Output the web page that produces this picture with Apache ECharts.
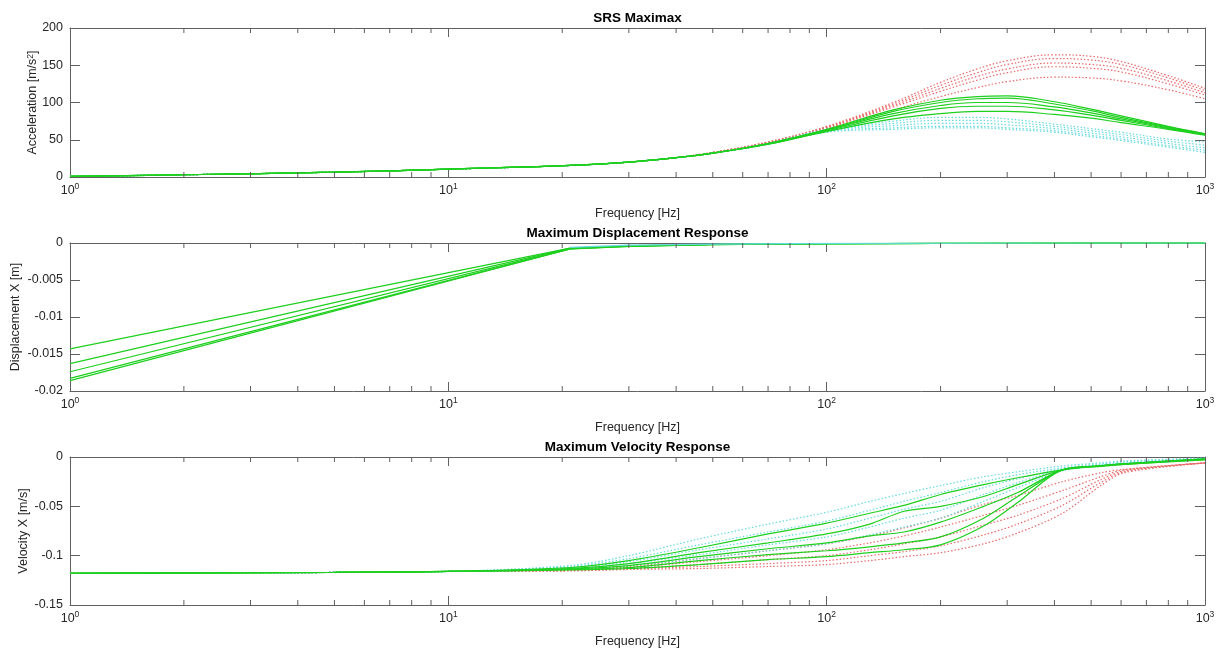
<!DOCTYPE html>
<html>
<head>
<meta charset="utf-8">
<script src="https://cdn.jsdelivr.net/npm/echarts@6/dist/echarts.min.js"></script>
<style>html,body{margin:0;padding:0;background:#fff;}#c{width:1223px;height:657px;}</style>
</head>
<body>
<div id="c"></div>
<script>
// ---------- DATA ----------
const titles = ['SRS Maximax', 'Maximum Displacement Response', 'Maximum Velocity Response'];
const xLabel = 'Frequency [Hz]';
const minorFreqs = [2,3,4,5,6,7,8,9,20,30,40,50,60,70,80,90,200,300,400,500,600,700,800,900];

// Panel 1: SRS acceleration [m/s^2]
const accFreq = [1, 2, 5, 10, 21, 30, 40, 50, 70, 100, 150, 200, 250, 300, 400, 500, 600, 800, 1000];
const accGreen = [
  [0.8,3,6.5,10.5,15.5,20,26,32,45, 64,90,103,108,109,101,91,82,68,58],
  [0.8,3,6.5,10.5,15.5,20,26,32,45, 63,88,100,105,106,98,89,80,67,58],
  [0.8,3,6.5,10.5,15.5,20,26,32,45, 63,85,96,100,100,94,86,78,66,57],
  [0.8,3,6.5,10.5,15.5,20,26,32,44, 62,82,92,95,95,90,83,76,65,57],
  [0.8,3,6.5,10.5,15.5,20,26,32,44, 61,78,85,88,88,84,79,73,64,56]
];
const accRed = [
  [0.8,3,6.5,10.5,15.5,20,26,33,47, 68,100,127,145,156,164,162,155,136,119],
  [0.8,3,6.5,10.5,15.5,20,26,33,47, 67,98,123,140,151,159,157,151,133,116],
  [0.8,3,6.5,10.5,15.5,20,26,33,46, 67,96,119,135,145,153,151,146,129,113],
  [0.8,3,6.5,10.5,15.5,20,26,33,46, 66,94,115,130,140,148,146,141,125,110],
  [0.8,3,6.5,10.5,15.5,20,26,32,46, 65,90,108,120,128,134,133,129,117,105]
];
const accCyan = [
  [0.8,3,6.5,10.5,15.5,20,26,32,45, 64,75,80,80,78,71,65,60,51,47],
  [0.8,3,6.5,10.5,15.5,20,26,32,45, 63,72,76,76,74,68,62,57,48,43],
  [0.8,3,6.5,10.5,15.5,20,26,32,44, 62,69,72,72,70,65,59,54,45,39],
  [0.8,3,6.5,10.5,15.5,20,26,32,44, 61,66,68,68,66,62,56,51,42,36],
  [0.8,3,6.5,10.5,15.5,20,26,32,44, 60,64,66,66,64,60,54,49,40,33]
];

// Panel 2: displacement [m]
const dispFreq = [1, 21, 30, 50, 100, 200, 500, 1000];
const dispGreen = [
  [-0.0143, -0.0007, -0.0004, -0.0002, -0.0001, -0.00004, -0.00001, 0],
  [-0.0163, -0.0007, -0.0004, -0.0002, -0.0001, -0.00004, -0.00001, 0],
  [-0.0174, -0.00075, -0.00042, -0.0002, -0.0001, -0.00004, -0.00001, 0],
  [-0.0183, -0.0008, -0.00045, -0.00022, -0.0001, -0.00004, -0.00001, 0],
  [-0.0186, -0.0008, -0.00045, -0.00022, -0.0001, -0.00004, -0.00001, 0]
];
const dispCyanFreq = [21, 30, 50, 100, 200, 500, 1000];
const dispCyan = [-0.0006, -0.0003, -0.00015, -0.00006, -0.00002, 0, 0];

// Panel 3: velocity [m/s]
const velFreq = [1, 2, 5, 10, 21, 30, 46, 70, 100, 130, 160, 200, 260, 320, 420, 530, 610, 1000];
const velGreen = [
  [-0.118,-0.1175,-0.117,-0.116,-0.112,-0.105,-0.092,-0.078,-0.067,-0.057,-0.049,-0.038,-0.028,-0.021,-0.013,-0.009,-0.007,-0.002],
  [-0.118,-0.1175,-0.117,-0.116,-0.113,-0.108,-0.097,-0.087,-0.078,-0.068,-0.055,-0.050,-0.040,-0.028,-0.013,-0.009,-0.007,-0.002],
  [-0.118,-0.1175,-0.117,-0.116,-0.1135,-0.110,-0.101,-0.093,-0.087,-0.080,-0.076,-0.066,-0.050,-0.036,-0.013,-0.009,-0.007,-0.0025],
  [-0.118,-0.1175,-0.117,-0.116,-0.114,-0.112,-0.105,-0.099,-0.095,-0.091,-0.087,-0.081,-0.062,-0.040,-0.013,-0.009,-0.0075,-0.0025],
  [-0.118,-0.1175,-0.117,-0.116,-0.1145,-0.113,-0.109,-0.104,-0.101,-0.097,-0.094,-0.089,-0.070,-0.046,-0.013,-0.0095,-0.0075,-0.003]
];
const velRed = [
  [-0.118,-0.1175,-0.117,-0.116,-0.114,-0.111,-0.103,-0.095,-0.088,-0.080,-0.072,-0.062,-0.048,-0.039,-0.025,-0.016,-0.0125,-0.006],
  [-0.118,-0.1175,-0.117,-0.116,-0.1145,-0.112,-0.106,-0.100,-0.094,-0.087,-0.080,-0.071,-0.059,-0.049,-0.034,-0.020,-0.013,-0.006],
  [-0.118,-0.1175,-0.117,-0.116,-0.115,-0.113,-0.109,-0.104,-0.100,-0.094,-0.088,-0.081,-0.069,-0.059,-0.042,-0.023,-0.014,-0.006],
  [-0.118,-0.1175,-0.117,-0.116,-0.115,-0.1135,-0.111,-0.108,-0.105,-0.100,-0.096,-0.090,-0.079,-0.068,-0.049,-0.026,-0.015,-0.006],
  [-0.118,-0.1175,-0.117,-0.116,-0.1155,-0.114,-0.113,-0.111,-0.109,-0.105,-0.101,-0.097,-0.088,-0.077,-0.057,-0.029,-0.016,-0.006]
];
const velCyan = [
  [-0.118,-0.1175,-0.117,-0.116,-0.110,-0.100,-0.083,-0.068,-0.056,-0.045,-0.037,-0.029,-0.020,-0.015,-0.009,-0.006,-0.004,-0.001],
  [-0.118,-0.1175,-0.117,-0.116,-0.111,-0.103,-0.089,-0.076,-0.065,-0.054,-0.045,-0.036,-0.025,-0.018,-0.011,-0.007,-0.005,-0.0015],
  [-0.118,-0.1175,-0.117,-0.116,-0.112,-0.106,-0.094,-0.083,-0.073,-0.062,-0.053,-0.045,-0.031,-0.022,-0.012,-0.008,-0.006,-0.002],
  [-0.118,-0.1175,-0.117,-0.116,-0.113,-0.108,-0.099,-0.089,-0.081,-0.071,-0.062,-0.054,-0.038,-0.026,-0.013,-0.0085,-0.0065,-0.002],
  [-0.118,-0.1175,-0.117,-0.116,-0.1135,-0.110,-0.103,-0.095,-0.088,-0.079,-0.071,-0.062,-0.045,-0.031,-0.014,-0.009,-0.007,-0.002]
];

const yNames = ['Acceleration [m/s{s|2}]', 'Displacement X [m]', 'Velocity X [m/s]'];
const yRanges = [[0, 200, 50], [-0.02, 0, 0.005], [-0.15, 0, 0.05]];

// ---------- STYLE / LAYOUT ----------
const FONT = '"Liberation Sans", Arial, Helvetica, sans-serif';
const TXT = '#262626';
const AX = '#606060';
const GREEN = '#1fcf1f', RED = '#e86a6a', CYAN = '#66dae0';
const grids = [
  {left: 70, right: 18, top: 28, height: 149, outerBoundsMode: 'none', containLabel: false},
  {left: 70, right: 18, top: 243, height: 148, outerBoundsMode: 'none', containLabel: false},
  {left: 70, right: 18, top: 457, height: 148, outerBoundsMode: 'none', containLabel: false}
];
const yNameGaps = [31, 48, 40];

function pairs(f, v) { return f.map((x, i) => [x, v[i]]); }

const xAxes = [], yAxes = [], series = [];
grids.forEach((g, i) => {
  const base = {
    type: 'log', logBase: 10, min: 1, max: 1000, gridIndex: i,
    axisLine: {show: true, onZero: false, lineStyle: {color: AX, width: 1}},
    axisTick: {show: true, inside: true, length: 9, lineStyle: {color: AX}},
    splitLine: {show: false}, minorTick: {show: false}, minorSplitLine: {show: false}
  };
  xAxes.push(Object.assign({}, base, {
    position: 'bottom',
    name: xLabel, nameLocation: 'middle', nameGap: 30, nameMoveOverlap: false,
    nameTextStyle: {fontFamily: FONT, fontSize: 12.5, color: TXT},
    axisLabel: {
      show: true, margin: 5, color: TXT,
      formatter: v => '{b|10}{s|' + Math.round(Math.log10(v)) + '}',
      rich: {
        b: {fontFamily: FONT, fontSize: 12.5, color: TXT, lineHeight: 18},
        s: {fontFamily: FONT, fontSize: 8.5, color: TXT, lineHeight: 10, verticalAlign: 'top'}
      }
    }
  }));
  xAxes.push(Object.assign({}, base, {position: 'top', axisLabel: {show: false}}));
  const r = yRanges[i];
  const ybase = {
    type: 'value', gridIndex: i, min: r[0], max: r[1], interval: r[2],
    axisLine: {show: true, onZero: false, lineStyle: {color: AX, width: 1}},
    axisTick: {show: true, inside: true, length: 10, lineStyle: {color: AX}},
    splitLine: {show: false}
  };
  yAxes.push(Object.assign({}, ybase, {
    position: 'left',
    name: yNames[i], nameLocation: 'middle', nameRotate: 90, nameGap: yNameGaps[i],
    nameMoveOverlap: false,
    nameTextStyle: {
      fontFamily: FONT, fontSize: 12.5, color: TXT,
      rich: {s: {fontFamily: FONT, fontSize: 8.5, color: TXT, verticalAlign: 'top', lineHeight: 10}}
    },
    axisLabel: {margin: 7, fontFamily: FONT, fontSize: 12.5, color: TXT,
      formatter: v => String(+v.toFixed(6))}
  }));
  yAxes.push(Object.assign({}, ybase, {position: 'right', axisLabel: {show: false}}));

  // minor log ticks on bottom and top edges
  series.push({
    type: 'custom', xAxisIndex: 2 * i, yAxisIndex: 2 * i, silent: true, clip: false, z: 5,
    data: minorFreqs.map(f => [f, r[0]]),
    renderItem: (params, api) => {
      const cs = params.coordSys;
      const x = api.coord([api.value(0), api.value(1)])[0];
      const st = {stroke: AX, lineWidth: 1};
      return {type: 'group', children: [
        {type: 'line', shape: {x1: x, y1: cs.y + cs.height, x2: x, y2: cs.y + cs.height - 5}, style: st},
        {type: 'line', shape: {x1: x, y1: cs.y, x2: x, y2: cs.y + 5}, style: st}
      ]};
    }
  });
});

function lineSeries(i, freq, vals, color, dotted, smooth) {
  return {
    type: 'line', xAxisIndex: 2 * i, yAxisIndex: 2 * i, data: pairs(freq, vals),
    showSymbol: false, symbol: 'none', smooth: smooth, animation: false, silent: true,
    lineStyle: {color: color, width: 1.2, type: dotted ? [1.5, 2] : 'solid'}
  };
}
accRed.forEach(v => series.push(lineSeries(0, accFreq, v, RED, true, 0.4)));
accCyan.forEach(v => series.push(lineSeries(0, accFreq, v, CYAN, true, 0.4)));
accGreen.forEach(v => series.push(lineSeries(0, accFreq, v, GREEN, false, 0.4)));

dispGreen.forEach(v => series.push(lineSeries(1, dispFreq, v, GREEN, false, false)));
series.push(lineSeries(1, dispCyanFreq, dispCyan, CYAN, false, false));

velRed.forEach(v => series.push(lineSeries(2, velFreq, v, RED, true, 0.3)));
velCyan.forEach(v => series.push(lineSeries(2, velFreq, v, CYAN, true, 0.3)));
velGreen.forEach(v => series.push(lineSeries(2, velFreq, v, GREEN, false, 0.3)));

const graphics = titles.map((t, i) => ({
  type: 'text', x: 70 + (1223 - 70 - 18) / 2, y: grids[i].top - 10,
  style: {text: t, fill: '#000', font: 'bold 13.5px ' + FONT, textAlign: 'center', textVerticalAlign: 'middle'}
}));

const chart = echarts.init(document.getElementById('c'), null, {renderer: 'canvas'});
chart.setOption({
  animation: false,
  backgroundColor: '#ffffff',
  grid: grids,
  xAxis: xAxes,
  yAxis: yAxes,
  series: series,
  graphic: graphics
});
</script>
</body>
</html>
